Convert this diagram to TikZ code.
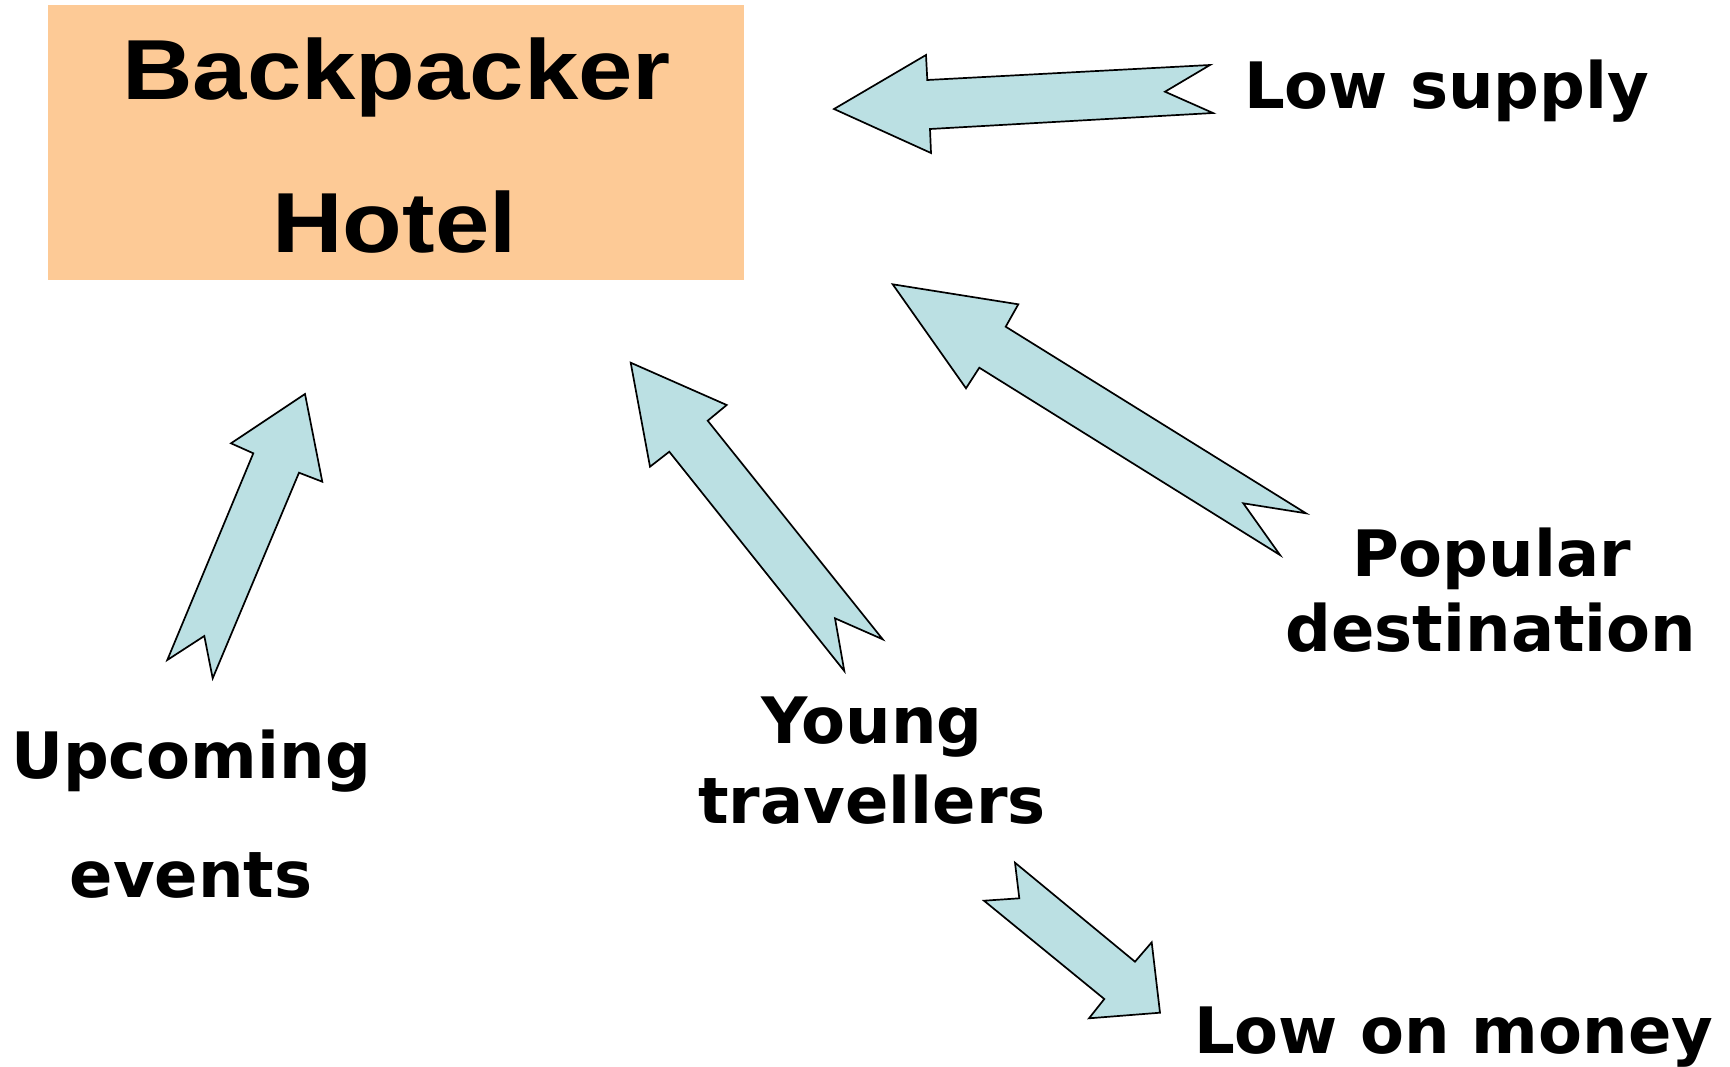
\documentclass[tikz,border=0pt]{standalone}
\usepackage{fontspec}
\newfontfamily\labelfont{DejaVu Sans}
\newfontfamily\boxfont[FakeStretch=1.147]{Liberation Sans}
\definecolor{boxpeach}{RGB}{253,202,150}
\definecolor{arrowblue}{RGB}{187,224,227}
\begin{document}
\begin{tikzpicture}[x=0.5pt,y=-0.5pt,
  hotelbox/.style={draw=none,fill=boxpeach,rectangle,minimum width=348pt,minimum height=137.5pt,inner sep=0pt,outer sep=0pt},
  boxtext/.style={inner sep=0pt,outer sep=0pt,anchor=base,font=\boxfont\bfseries\fontsize{42.6}{51}\selectfont},
  lbl/.style={inner sep=0pt,outer sep=0pt,font=\labelfont\bfseries\fontsize{32}{38.4}\selectfont},
  blockarrow/.style={draw=black,fill=arrowblue,line width=0.85pt,line join=miter}]
\useasboundingbox (0,0) rectangle (1730,1066);
\fill[white] (0,0) rectangle (1730,1066);

% Box
\node[hotelbox] (hotel) at (396,142.5) {};
\node[boxtext] (backpacker) at (396.5,99.3) {Backpacker};
\node[boxtext] (hoteltxt) at (394.5,252.7) {Hotel};

% Labels
\node[lbl,anchor=base west] (supply) at (1244,108.3) {Low supply};
\node[lbl,anchor=base] (pop1) at (1491.5,576.7) {Popular};
\node[lbl,anchor=base] (pop2) at (1491,651.7) {destination};
\node[lbl,anchor=base] (up1) at (191,778) {Upcoming};
\node[lbl,anchor=base] (up2) at (191,897) {events};
\node[lbl,anchor=base] (young1) at (872,743.3) {Young};
\node[lbl,anchor=base] (young2) at (872,823.3) {travellers};
\node[lbl,anchor=base west] (money) at (1194,1053.3) {Low on money};

% Block arrows
\draw[blockarrow] (834,109) -- (926,55) -- (927.3,80) -- (1210,65) -- (1165,91.7) -- (1213,113) -- (930,129) -- (931,153) -- cycle;
\draw[blockarrow] (892.7,284.3) -- (1018.3,304.3) -- (1005.7,326.7) -- (1306,513.3) -- (1243.3,503.3) -- (1280,555) -- (979.3,367.7) -- (966,388.3) -- cycle;
\draw[blockarrow] (630.7,362.7) -- (726.7,405) -- (707.7,420.7) -- (882.7,639.3) -- (835,618.3) -- (844.3,671) -- (669.3,451.7) -- (650,466.7) -- cycle;
\draw[blockarrow] (305,394) -- (322.3,481.7) -- (299,472.7) -- (212.7,678.3) -- (204.3,636) -- (167.3,660) -- (253.3,453.3) -- (231,443.3) -- cycle;
\draw[blockarrow] (1160,1012.7) -- (1089,1018.3) -- (1104.3,999) -- (984,900.7) -- (1019.3,898.3) -- (1015,862.7) -- (1135,961.7) -- (1151.7,942.3) -- cycle;
\end{tikzpicture}
\end{document}
